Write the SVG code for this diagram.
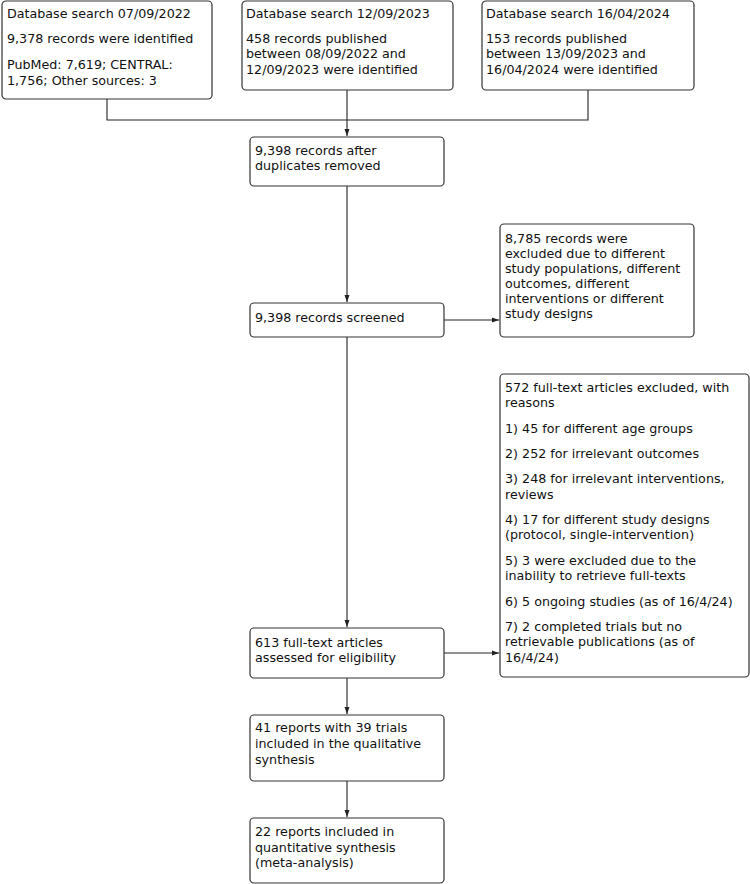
<svg xmlns="http://www.w3.org/2000/svg" width="750" height="884" viewBox="0 0 750 884">
<style>
.b{fill:#fff;stroke:#333;stroke-width:1.2}
.t{font-family:"DejaVu Sans",sans-serif;font-size:12.7px;fill:#111}
.c{fill:none;stroke:#222;stroke-width:1.1}
</style>
<defs>
<marker id="a" markerWidth="8" markerHeight="6" refX="7" refY="3" orient="auto" markerUnits="userSpaceOnUse">
<path d="M0,0.5 L7,3 L0,5.5 Z" fill="#222"/>
</marker>
</defs>
<rect width="750" height="884" fill="#fff"/>
<g id="connectors">
<path class="c" d="M107,99 V120 H588 V90"/>
<path class="c" d="M347,90 V136" marker-end="url(#a)"/>
<path class="c" d="M347,186 V302" marker-end="url(#a)"/>
<path class="c" d="M444,320 H499" marker-end="url(#a)"/>
<path class="c" d="M347,337 V627" marker-end="url(#a)"/>
<path class="c" d="M444,653 H499" marker-end="url(#a)"/>
<path class="c" d="M347,678 V714" marker-end="url(#a)"/>
<path class="c" d="M347,781 V817" marker-end="url(#a)"/>
</g>
<g id="n1">
<rect class="b" x="2" y="1" width="210" height="98" rx="4"/>
<text class="t" x="7" y="18">Database search 07/09/2022</text>
<text class="t" x="7" y="43">9,378 records were identified</text>
<text class="t" x="7" y="69">PubMed: 7,619; CENTRAL:</text>
<text class="t" x="7" y="84.5">1,756; Other sources: 3</text>
</g>
<g id="n2">
<rect class="b" x="242" y="1" width="211" height="89" rx="4"/>
<text class="t" x="246" y="18">Database search 12/09/2023</text>
<text class="t" x="246" y="43">458 records published</text>
<text class="t" x="246" y="58">between 08/09/2022 and</text>
<text class="t" x="246" y="73.5">12/09/2023 were identified</text>
</g>
<g id="n3">
<rect class="b" x="482" y="1" width="212" height="89" rx="4"/>
<text class="t" x="486" y="18">Database search 16/04/2024</text>
<text class="t" x="486" y="43">153 records published</text>
<text class="t" x="486" y="58">between 13/09/2023 and</text>
<text class="t" x="486" y="73.5">16/04/2024 were identified</text>
</g>
<g id="n4">
<rect class="b" x="250" y="137" width="194" height="49" rx="4"/>
<text class="t" x="255" y="155">9,398 records after</text>
<text class="t" x="255" y="170">duplicates removed</text>
</g>
<g id="n5">
<rect class="b" x="250" y="303" width="194" height="34" rx="4"/>
<text class="t" x="255" y="322">9,398 records screened</text>
</g>
<g id="n6">
<rect class="b" x="500" y="224" width="194" height="113" rx="4"/>
<text class="t" x="505" y="243">8,785 records were</text>
<text class="t" x="505" y="258">excluded due to different</text>
<text class="t" x="505" y="273">study populations, different</text>
<text class="t" x="505" y="288">outcomes, different</text>
<text class="t" x="505" y="303">interventions or different</text>
<text class="t" x="505" y="318">study designs</text>
</g>
<g id="n7">
<rect class="b" x="500" y="374" width="249" height="303" rx="4"/>
<text class="t" x="505" y="392">572 full-text articles excluded, with</text>
<text class="t" x="505" y="407">reasons</text>
<text class="t" x="505" y="433">1) 45 for different age groups</text>
<text class="t" x="505" y="458">2) 252 for irrelevant outcomes</text>
<text class="t" x="505" y="483">3) 248 for irrelevant interventions,</text>
<text class="t" x="505" y="499">reviews</text>
<text class="t" x="505" y="524">4) 17 for different study designs</text>
<text class="t" x="505" y="539">(protocol, single-intervention)</text>
<text class="t" x="505" y="565">5) 3 were excluded due to the</text>
<text class="t" x="505" y="580">inability to retrieve full-texts</text>
<text class="t" x="505" y="606">6) 5 ongoing studies (as of 16/4/24)</text>
<text class="t" x="505" y="631">7) 2 completed trials but no</text>
<text class="t" x="505" y="646">retrievable publications (as of</text>
<text class="t" x="505" y="662">16/4/24)</text>
</g>
<g id="n8">
<rect class="b" x="250" y="628" width="194" height="50" rx="4"/>
<text class="t" x="255" y="647">613 full-text articles</text>
<text class="t" x="255" y="662">assessed for eligibility</text>
</g>
<g id="n9">
<rect class="b" x="250" y="715" width="194" height="66" rx="4"/>
<text class="t" x="255" y="732">41 reports with 39 trials</text>
<text class="t" x="255" y="748">included in the qualitative</text>
<text class="t" x="255" y="763.5">synthesis</text>
</g>
<g id="n10">
<rect class="b" x="250" y="818" width="194" height="65" rx="4"/>
<text class="t" x="255" y="836">22 reports included in</text>
<text class="t" x="255" y="851.5">quantitative synthesis</text>
<text class="t" x="255" y="867">(meta-analysis)</text>
</g>
</svg>
